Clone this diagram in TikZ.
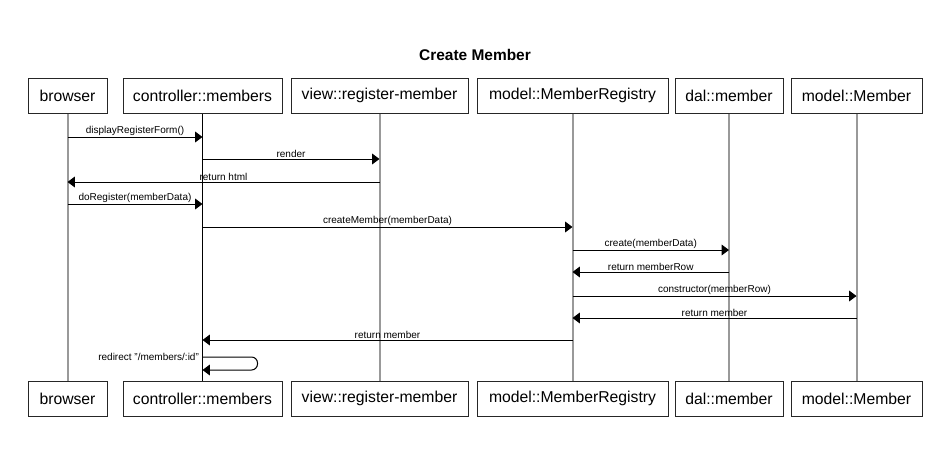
\documentclass[tikz,border=0pt]{standalone}
\usepackage{fontspec}
\setmainfont{Liberation Sans}
\usetikzlibrary{arrows.meta}
\begin{document}
\begin{tikzpicture}[x=0.75pt,y=-0.75pt,
  actor/.style={draw=black!85, line width=0.75pt, minimum height=26.25pt, inner sep=0pt, font=\fontsize{11.8}{13}\selectfont},
  life/.style={draw=black!40, line width=1.5pt},
  msg/.style={draw=black, line width=0.75pt, -{Triangle[length=5.5pt,width=8pt]}},
  lbl/.style={font=\fontsize{7.5}{8}\selectfont, inner sep=1pt, above}]
\useasboundingbox (0,0) rectangle (952,458);
\node[font=\bfseries\fontsize{11.6}{13}\selectfont] (title) at (475,55) {Create Member};
% top actors
\node[actor, minimum width=59.25pt]  (b1) at (67.5,95.5)  {browser};
\node[actor, minimum width=119.25pt] (c1) at (202.5,95.5) {controller::members};
\node[actor, minimum width=132.75pt] (v1) at (379.5,95.5) {view::register-member};
\node[actor, minimum width=143.25pt] (r1) at (572.5,95.5) {model::MemberRegistry};
\node[actor, minimum width=81pt]     (d1) at (729,95.5)   {dal::member};
\node[actor, minimum width=98.25pt]  (m1) at (856.5,95.5) {model::Member};
% bottom actors
\node[actor, minimum width=59.25pt]  (b2) at (67.5,398.5)  {browser};
\node[actor, minimum width=119.25pt] (c2) at (202.5,398.5) {controller::members};
\node[actor, minimum width=132.75pt] (v2) at (379.5,398.5) {view::register-member};
\node[actor, minimum width=143.25pt] (r2) at (572.5,398.5) {model::MemberRegistry};
\node[actor, minimum width=81pt]     (d2) at (729,398.5)   {dal::member};
\node[actor, minimum width=98.25pt]  (m2) at (856.5,398.5) {model::Member};
% lifelines
\draw[life] (b1) -- (b2);
\draw[life, draw=black, line width=0.75pt] (c1) -- (c2);
\draw[life] (v1) -- (v2);
\draw[life] (r1) -- (r2);
\draw[life] (d1) -- (d2);
\draw[life] (m1) -- (m2);
% message levels
\coordinate (y1) at (0,137);
\coordinate (y2) at (0,159);
\coordinate (y3) at (0,182);
\coordinate (y4) at (0,204);
\coordinate (y5) at (0,227);
\coordinate (y6) at (0,250);
\coordinate (y7) at (0,272);
\coordinate (y8) at (0,296);
\coordinate (y9) at (0,318);
\coordinate (y10) at (0,340);
\coordinate (y11) at (0,357);
\coordinate (y12) at (0,370);
% messages
\draw[msg] (b1 |- y1) -- node[lbl]{displayRegisterForm()} (c1 |- y1);
\draw[msg] (c1 |- y2) -- node[lbl]{render} (v1 |- y2);
\draw[msg] (v1 |- y3) -- node[lbl]{return html} (b1 |- y3);
\draw[msg] (b1 |- y4) -- node[lbl]{doRegister(memberData)} (c1 |- y4);
\draw[msg] (c1 |- y5) -- node[lbl]{createMember(memberData)} (r1 |- y5);
\draw[msg] (r1 |- y6) -- node[lbl]{create(memberData)} (d1 |- y6);
\draw[msg] (d1 |- y7) -- node[lbl]{return memberRow} (r1 |- y7);
\draw[msg] (r1 |- y8) -- node[lbl]{constructor(memberRow)} (m1 |- y8);
\draw[msg] (m1 |- y9) -- node[lbl]{return member} (r1 |- y9);
\draw[msg] (r1 |- y10) -- node[lbl]{return member} (c1 |- y10);
\draw[msg, rounded corners=4.5pt] (c1 |- y11) -- ++(55,0) -- ++(0,13) -- (c1 |- y12);
\node[font=\fontsize{7.5}{8}\selectfont, inner sep=1pt, anchor=east] (redir) at ([xshift=-1.5pt]c1 |- y11) {redirect "/members/:id"};
\end{tikzpicture}
\end{document}
